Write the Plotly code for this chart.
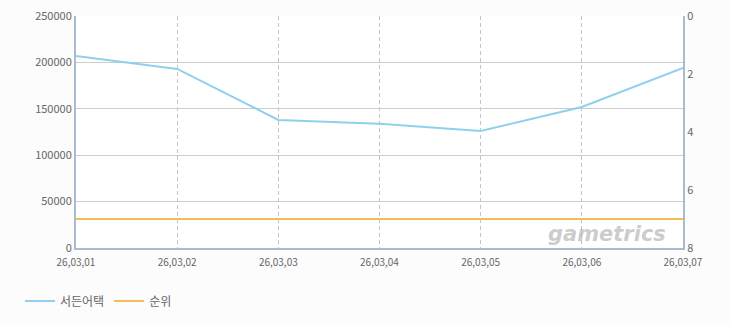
import plotly.graph_objects as go

dates = ["26,03,01", "26,03,02", "26,03,03", "26,03,04", "26,03,05", "26,03,06", "26,03,07"]
sudden_attack = [207000, 193000, 138000, 134000, 126000, 152000, 194000]
rank = [7, 7, 7, 7, 7, 7, 7]
left_ticks = [0, 50000, 100000, 150000, 200000, 250000]
right_ticks = [0, 2, 4, 6, 8]

font = "Noto Sans CJK KR, Noto Sans, sans-serif"
xpos = list(range(len(dates)))
fig = go.Figure()
fig.add_trace(go.Scatter(x=xpos, y=sudden_attack, name="서든어택", mode="lines",
                         line=dict(color="#8fd0ee", width=2)))
fig.add_trace(go.Scatter(x=xpos, y=rank, name="순위", mode="lines", yaxis="y2",
                         line=dict(color="#f8bb5a", width=2)))

fig.update_layout(
    width=730, height=325,
    margin=dict(l=76, r=47, t=16, b=77, autoexpand=False),
    paper_bgcolor="#fcfcfc", plot_bgcolor="#ffffff",
    font=dict(family=font, size=11, color="#666666"),
    showlegend=True,
    legend=dict(orientation="h", x=20 / 730, y=1 - 301 / 325, xref="container", yref="container",
                xanchor="left", yanchor="middle", itemwidth=30,
                font=dict(size=12, color="#666666"), bgcolor="rgba(0,0,0,0)"),
    xaxis=dict(range=[0, 6], tickvals=xpos, ticktext=dates,
               showgrid=True, gridcolor="#c4c4c4", griddash="4px,3px",
               gridwidth=1, showline=True, linecolor="#a9bccf", linewidth=2,
               ticks="", tickfont=dict(size=10, color="#666666"), zeroline=False,
               ticklabelstandoff=4),
    yaxis=dict(range=[0, 250000], tickvals=left_ticks, ticktext=[str(v) for v in left_ticks],
               showgrid=True, gridcolor="#cccccc", showline=True, linecolor="#a9bccf",
               linewidth=2, ticks="", zeroline=False, tickfont=dict(size=11, color="#666666")),
    yaxis2=dict(range=[8, 0], tickvals=right_ticks, overlaying="y", side="right",
                showgrid=False, showline=True, linecolor="#a9bccf", linewidth=2,
                ticks="", zeroline=False, tickfont=dict(size=11, color="#666666")),
    annotations=[dict(text="<b><i>gametrics</i></b>", xref="paper", yref="paper",
                      x=0.975, y=0.0, xanchor="right", yanchor="bottom", showarrow=False,
                      font=dict(size=21, color="rgba(170,170,170,0.6)", family="DejaVu Sans"))],
)
fig.write_html("out.html")
